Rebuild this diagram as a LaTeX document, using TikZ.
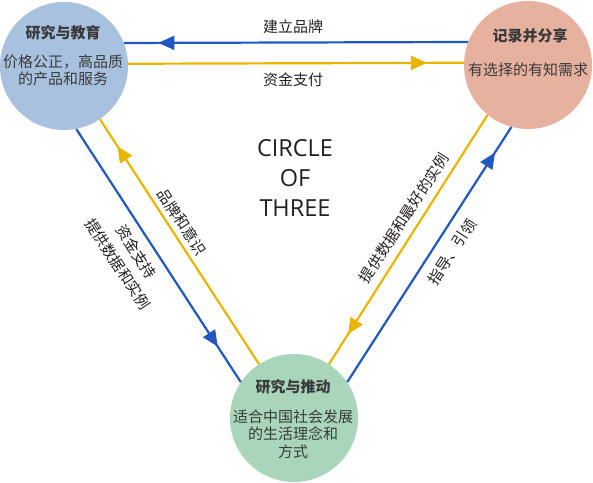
\documentclass[tikz,border=0pt]{standalone}
\usepackage{fontspec}
\setmainfont{Open Sans}
\newfontfamily\cjk{Noto Sans CJK SC}
\usetikzlibrary{arrows.meta,decorations.markings}
\definecolor{cblue}{HTML}{A7C1DE}
\definecolor{csalmon}{HTML}{E7B19F}
\definecolor{cgreen}{HTML}{A9D6BA}
\definecolor{lblue}{HTML}{2157C1}
\definecolor{lyellow}{HTML}{E9B500}
\definecolor{tgray}{HTML}{3A3A3A}
\definecolor{tdark}{HTML}{231F20}
\begin{document}
\begin{tikzpicture}[x=1pt,y=1pt,
  bub/.style={circle, minimum size=128pt, inner sep=0pt, draw=none},
  ttl/.style={font=\cjk\bfseries\fontsize{15}{18}\selectfont, text=tgray, inner sep=0pt},
  bdy/.style={font=\cjk\fontsize{15}{17.5}\selectfont, text=tgray, align=center, inner sep=0pt},
  lbl/.style={font=\cjk\fontsize{15}{22}\selectfont, text=tdark, align=center, inner sep=0pt},
  conn/.style={line width=2.2pt},
  bluec/.style={conn, lblue},
  yelc/.style={conn, lyellow},
  midarrow/.style={postaction={decorate}, decoration={markings, mark=at position #1 with {\arrow{Triangle[length=16pt,width=14pt]}}}}
]
\useasboundingbox (0,0) rectangle (593,482);
% circles
\node[bub, fill=cblue] (tl) at (64,416) {};
\node[bub, fill=csalmon] (tr) at (528,417) {};
\node[bub, fill=cgreen] (bt) at (294,64) {};
% connectors
\draw[bluec, midarrow=0.9] (tr.159.9) -- (tl.21.1);
\draw[yelc, midarrow=0.89] (tl.2.7) -- (tr.178.2);
\draw[bluec, midarrow=0.86] (tl.-79.8) -- (bt.146.3);
\draw[yelc, midarrow=0.89] (bt.123.2) -- (tl.-56.3);
\draw[yelc, midarrow=0.88] (tr.231.6) -- (bt.57.3);
\draw[bluec, midarrow=0.9] (bt.34.2) -- (tr.255.3);
% labels
\node[lbl] (l1) at (293,455) {建立品牌};
\node[lbl] (l2) at (293,402) {资金支付};
\node[lbl, rotate=-57] (l3) at (182,260) {品牌和意识};
\node[lbl, rotate=-57] (l4) at (127,224) {资金支持\\提供数据和实例};
\node[lbl, rotate=57] (l5) at (404,264) {提供数据和最好的实例};
\node[lbl, rotate=57] (l6) at (452,230) {指导、引领};
\node[font=\fontsize{23.5}{30}\selectfont, align=center, text=tdark, inner sep=0pt] (c3) at (295,304) {CIRCLE\\OF\\THREE};
% circle texts
\node[ttl] (tlh) at (63,449) {研究与教育};
\node[bdy] (tlb) at (63,411.5) {价格公正，高品质\\的产品和服务};
\node[ttl] (trh) at (530,446) {记录并分享};
\node[bdy] (trb) at (528,412) {有选择的有知需求};
\node[ttl] (bth) at (293,95) {研究与推动};
\node[bdy] (btb) at (293,48) {适合中国社会发展\\的生活理念和\\方式};
\end{tikzpicture}
\end{document}
